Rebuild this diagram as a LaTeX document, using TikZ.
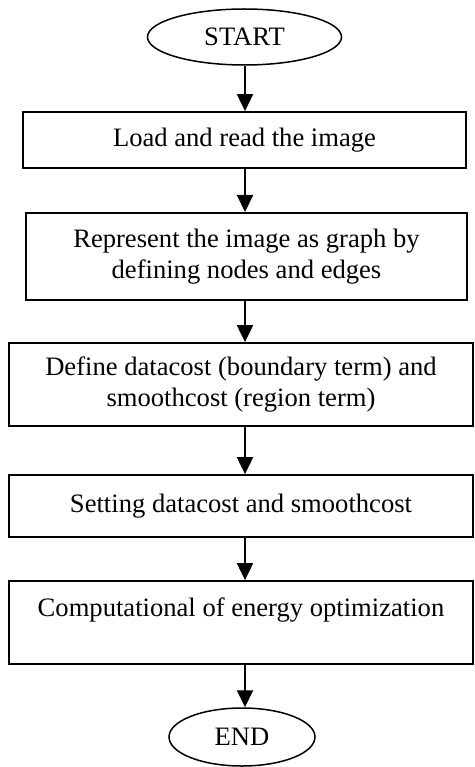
\documentclass[tikz,border=0pt]{standalone}
\usepackage{fontspec}
\setmainfont{Liberation Serif}
\usetikzlibrary{shapes.geometric,arrows.meta}
\begin{document}
\begin{tikzpicture}[x=1pt,y=-1pt,
  txt/.style={font=\fontsize{26.6}{31}\selectfont},
  box/.style={txt, draw, line width=1.8pt, inner sep=0pt, align=center},
  term/.style={txt, draw, ellipse, line width=1.5pt, inner sep=0pt},
  arr/.style={line width=2pt, -{Triangle[width=16pt,length=17pt]}}]
\useasboundingbox (0,0) rectangle (474,767);

% terminals and process boxes
\node[term, minimum width=194pt, minimum height=56pt] (start) at (244.5,37) {START};
\node[box, minimum width=443pt, minimum height=56pt] (b1) at (244.5,140) {Load and read the image};
\node[box, minimum width=441pt, minimum height=87pt] (b2) at (246.5,256.4)
  {Represent the image as graph by\\defining nodes and edges};
\node[box, minimum width=464pt, minimum height=83pt] (b3) at (241,384.5)
  {Define datacost (boundary term) and\\smoothcost (region term)};
\node[box, minimum width=464pt, minimum height=62pt] (b4) at (241,506) {Setting datacost and smoothcost};
\node[box, minimum width=464pt, minimum height=83pt] (b5) at (241,622.5)
  {Computational of energy optimization\\\mbox{}};
\node[term, minimum width=146pt, minimum height=58pt] (end) at (242,737) {END};

% common vertical axis of the flow arrows
\coordinate (axis) at (245,0);

\draw[arr] (axis |- start.south) -- (axis |- b1.north);
\draw[arr] (axis |- b1.south) -- (axis |- b2.north);
\draw[arr] (axis |- b2.south) -- (axis |- b3.north);
\draw[arr] (axis |- b3.south) -- (axis |- b4.north);
\draw[arr] (axis |- b4.south) -- (axis |- b5.north);
\draw[arr] (axis |- b5.south) -- (axis |- end.north);
\end{tikzpicture}
\end{document}
